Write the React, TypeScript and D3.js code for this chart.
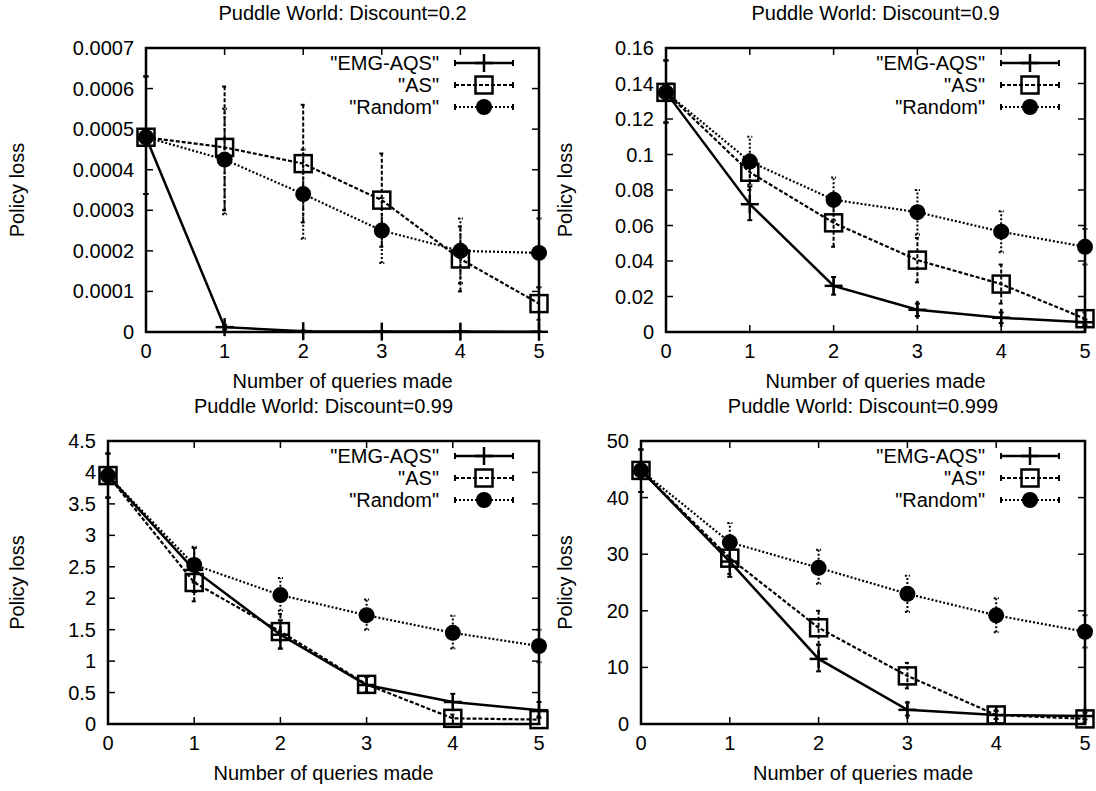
import React from "react";
import * as d3 from "d3";

const queries = [0, 1, 2, 3, 4, 5];
const seriesNames = ['"EMG-AQS"', '"AS"', '"Random"'];

// Discount = 0.2
const d02Emg = [0.00048, 0.000012, 0.000002, 0.000001, 0.000001, 0.0000005];
const d02EmgErr = [[0.00034, 0.00063], [0.000006, 0.000018], [0.000001, 0.000004], [0, 0.000002], [0, 0.000002], [0, 0.000001]];
const d02As = [0.00048, 0.000455, 0.000415, 0.000325, 0.00018, 0.00007];
const d02AsErr = [[0.00034, 0.00063], [0.0003, 0.000605], [0.00027, 0.00056], [0.00021, 0.00044], [0.0001, 0.00026], [0.00003, 0.00011]];
const d02Rnd = [0.00048, 0.000425, 0.00034, 0.00025, 0.0002, 0.000195];
const d02RndErr = [[0.00034, 0.00063], [0.00029, 0.00055], [0.00023, 0.00045], [0.00017, 0.00033], [0.00012, 0.00028], [0.00011, 0.00028]];
const d02Ticks = [0, 0.0001, 0.0002, 0.0003, 0.0004, 0.0005, 0.0006, 0.0007];

// Discount = 0.9
const d09Emg = [0.135, 0.072, 0.026, 0.0125, 0.008, 0.0055];
const d09EmgErr = [[0.118, 0.153], [0.063, 0.082], [0.021, 0.031], [0.009, 0.016], [0.005, 0.011], [0.004, 0.007]];
const d09As = [0.135, 0.09, 0.0615, 0.0405, 0.027, 0.0075];
const d09AsErr = [[0.118, 0.153], [0.08, 0.1], [0.048, 0.075], [0.028, 0.053], [0.016, 0.038], [0.004, 0.011]];
const d09Rnd = [0.135, 0.096, 0.0745, 0.0675, 0.0565, 0.048];
const d09RndErr = [[0.118, 0.153], [0.083, 0.11], [0.063, 0.087], [0.055, 0.08], [0.045, 0.068], [0.038, 0.058]];
const d09Ticks = [0, 0.02, 0.04, 0.06, 0.08, 0.1, 0.12, 0.14, 0.16];

// Discount = 0.99
const d099Emg = [3.95, 2.45, 1.42, 0.62, 0.35, 0.22];
const d099EmgErr = [[3.6, 4.3], [2.1, 2.8], [1.2, 1.65], [0.5, 0.75], [0.22, 0.48], [0.1, 0.35]];
const d099As = [3.95, 2.25, 1.47, 0.63, 0.09, 0.07];
const d099AsErr = [[3.6, 4.3], [1.95, 2.55], [1.2, 1.75], [0.5, 0.75], [0, 0.15], [0, 0.12]];
const d099Rnd = [3.95, 2.53, 2.05, 1.73, 1.45, 1.24];
const d099RndErr = [[3.6, 4.3], [2.25, 2.82], [1.8, 2.32], [1.5, 1.98], [1.2, 1.72], [0.98, 1.5]];
const d099Ticks = [0, 0.5, 1, 1.5, 2, 2.5, 3, 3.5, 4, 4.5];

// Discount = 0.999
const d0999Emg = [44.8, 28.7, 11.5, 2.5, 1.6, 1.4];
const d0999EmgErr = [[41, 48.5], [26, 31], [9.3, 14], [1.5, 3.8], [0.9, 2.3], [0.8, 2]];
const d0999As = [44.8, 29.3, 17.0, 8.5, 1.6, 0.9];
const d0999AsErr = [[41, 48.5], [26.5, 32], [14, 20], [6.3, 10.8], [0.9, 2.4], [0.3, 1.5]];
const d0999Rnd = [44.8, 32.1, 27.6, 23.0, 19.2, 16.3];
const d0999RndErr = [[41, 48.5], [29, 35.5], [24.8, 30.8], [19.8, 26.2], [16.2, 22.2], [13.5, 19.2]];
const d0999Ticks = [0, 10, 20, 30, 40, 50];

const FONT = "'Liberation Sans', Arial, sans-serif";
const FS = 20;

const dashes = [null, "4,2", "2,2"];
const widths = [2.5, 2.2, 2.2];

const Marker = ({ kind, x, y }) => {
    if (kind === 0) {
        return (
            <g stroke="#000" strokeWidth={2.5}>
                <line x1={x - 9} x2={x + 9} y1={y} y2={y} />
                <line x1={x} x2={x} y1={y - 9} y2={y + 9} />
            </g>
        );
    }
    if (kind === 1) {
        return <rect x={x - 8.5} y={y - 8.5} width={17} height={17} fill="none" stroke="#000" strokeWidth={2.5} />;
    }
    return <circle cx={x} cy={y} r={8} fill="#000" />;
};

const Panel = ({ box, title, ticks, series }) => {
    const { left, right, top, bottom } = box;
    const x = d3.scaleLinear().domain([0, 5]).range([left, right]);
    const y = d3.scaleLinear().domain([0, ticks[ticks.length - 1]]).range([bottom, top]);
    const line = d3.line().x((d, i) => x(queries[i])).y(d => y(d));
    const midX = (left + right) / 2;
    const midY = (top + bottom) / 2;
    const tickLen = 7;

    return (
        <g fontFamily={FONT} fontSize={FS} fill="#000">
            <text x={midX} y={top - 28} textAnchor="middle">{title}</text>
            <text x={midX} y={bottom + 56} textAnchor="middle">Number of queries made</text>
            <text
                x={0}
                y={0}
                textAnchor="middle"
                transform={`translate(${box.ylab},${midY}) rotate(-90)`}
            >
                Policy loss
            </text>

            {/* ticks on all four sides, pointing inward */}
            <g stroke="#000" strokeWidth={1.5}>
                {ticks.map(t => (
                    <g key={"y" + t}>
                        <line x1={left} x2={left + tickLen} y1={y(t)} y2={y(t)} />
                        <line x1={right} x2={right - tickLen} y1={y(t)} y2={y(t)} />
                    </g>
                ))}
                {queries.map(q => (
                    <g key={"x" + q}>
                        <line x1={x(q)} x2={x(q)} y1={bottom} y2={bottom - tickLen} />
                        <line x1={x(q)} x2={x(q)} y1={top} y2={top + tickLen} />
                    </g>
                ))}
            </g>
            {ticks.map(t => (
                <text key={"yl" + t} x={left - 12} y={y(t)} dy="0.35em" textAnchor="end">{String(t)}</text>
            ))}
            {queries.map(q => (
                <text key={"xl" + q} x={x(q)} y={bottom + 26} textAnchor="middle">{q}</text>
            ))}

            <rect x={left} y={top} width={right - left} height={bottom - top} fill="none" stroke="#000" strokeWidth={2.5} />

            {series.map((s, k) => (
                <g key={k}>
                    <path d={line(s.values)} fill="none" stroke="#000" strokeWidth={widths[k]} strokeDasharray={dashes[k]} />
                    {s.err.map((e, i) => (
                        <g key={i} stroke="#000" strokeWidth={2} strokeDasharray={dashes[k]}>
                            <line x1={x(queries[i])} x2={x(queries[i])} y1={y(e[0])} y2={y(e[1])} />
                            <line x1={x(queries[i]) - 2.5} x2={x(queries[i]) + 2.5} y1={y(e[0])} y2={y(e[0])} strokeDasharray={null} />
                            <line x1={x(queries[i]) - 2.5} x2={x(queries[i]) + 2.5} y1={y(e[1])} y2={y(e[1])} strokeDasharray={null} />
                        </g>
                    ))}
                    {s.values.map((v, i) => (
                        <Marker key={i} kind={k} x={x(queries[i])} y={y(v)} />
                    ))}
                </g>
            ))}

            {/* legend */}
            {seriesNames.map((name, k) => {
                const ly = top + 15 + k * 22;
                const x0 = right - 84;
                const x1 = right - 26;
                return (
                    <g key={name}>
                        <text x={right - 100} y={ly} dy="0.35em" textAnchor="end">{name}</text>
                        <line x1={x0} x2={x1} y1={ly} y2={ly} stroke="#000" strokeWidth={widths[k]} strokeDasharray={dashes[k]} />
                        <line x1={x0} x2={x0} y1={ly - 3} y2={ly + 3} stroke="#000" strokeWidth={2} />
                        <line x1={x1} x2={x1} y1={ly - 3} y2={ly + 3} stroke="#000" strokeWidth={2} />
                        <Marker kind={k} x={(x0 + x1) / 2} y={ly} />
                    </g>
                );
            })}
        </g>
    );
};

const panels = [
    {
        box: { left: 146, right: 539, top: 48, bottom: 332, ylab: 24 },
        title: "Puddle World: Discount=0.2",
        ticks: d02Ticks,
        series: [
            { values: d02Emg, err: d02EmgErr },
            { values: d02As, err: d02AsErr },
            { values: d02Rnd, err: d02RndErr },
        ],
    },
    {
        box: { left: 666, right: 1085, top: 48, bottom: 332, ylab: 572 },
        title: "Puddle World: Discount=0.9",
        ticks: d09Ticks,
        series: [
            { values: d09Emg, err: d09EmgErr },
            { values: d09As, err: d09AsErr },
            { values: d09Rnd, err: d09RndErr },
        ],
    },
    {
        box: { left: 108, right: 539, top: 441, bottom: 724, ylab: 24 },
        title: "Puddle World: Discount=0.99",
        ticks: d099Ticks,
        series: [
            { values: d099Emg, err: d099EmgErr },
            { values: d099As, err: d099AsErr },
            { values: d099Rnd, err: d099RndErr },
        ],
    },
    {
        box: { left: 641, right: 1085, top: 441, bottom: 724, ylab: 572 },
        title: "Puddle World: Discount=0.999",
        ticks: d0999Ticks,
        series: [
            { values: d0999Emg, err: d0999EmgErr },
            { values: d0999As, err: d0999AsErr },
            { values: d0999Rnd, err: d0999RndErr },
        ],
    },
];

export default function App() {
    return (
        <svg
            width={1096}
            height={791}
            style={{ position: "absolute", left: 0, top: 0, background: "#fff" }}
        >
            <rect width={1096} height={791} fill="#fff" />
            {panels.map(p => (
                <Panel key={p.title} {...p} />
            ))}
        </svg>
    );
}
